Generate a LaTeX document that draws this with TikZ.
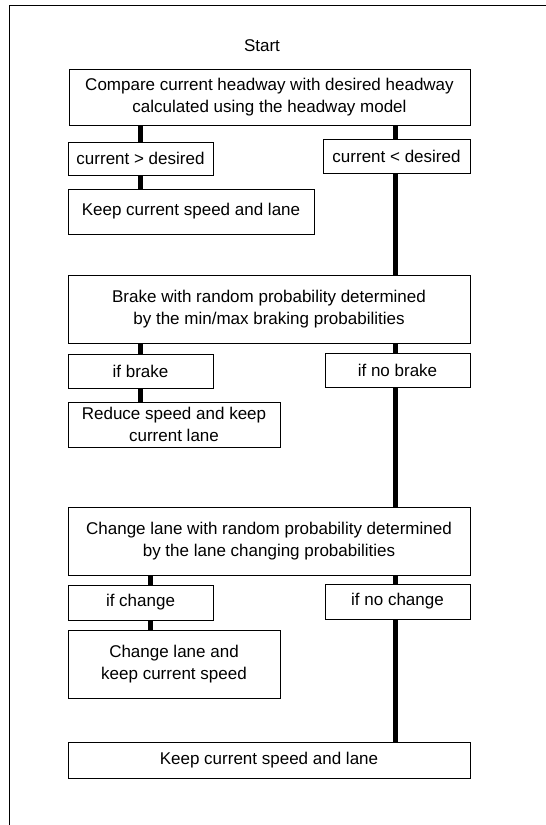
\documentclass[tikz,border=0pt]{standalone}
\usepackage{fontspec}
\setmainfont{Liberation Sans}
\begin{document}
\begin{tikzpicture}[x=1pt,y=-1pt,
  box/.style={draw, line width=0.9pt, inner sep=0pt, align=center,
    font=\fontsize{17}{21.5}\selectfont},
  conn/.style={line width=5pt}]
\useasboundingbox (0,0) rectangle (546,825);
\clip (0,0) rectangle (546,825);
\draw[line width=1pt] (9,5) rectangle (600,900);
\coordinate (R) at (395,0);
\coordinate (L) at (140,0);
\coordinate (L2) at (150,0);
\node[font=\fontsize{17}{20}\selectfont] (start) at (262,46) {Start};
\node[box, minimum width=401, minimum height=56] (box1) at (269.5,97)
  {Compare current headway with desired headway\\calculated using the headway model};
\node[box, minimum width=145, minimum height=33] (gt) at (140.5,158.5) {current > desired};
\node[box, minimum width=147, minimum height=34] (lt) at (396.5,156) {current < desired};
\node[box, minimum width=246, minimum height=45] (keep1) at (191,211.5) {Keep current speed and lane};
\node[box, minimum width=402, minimum height=68] (brake) at (269,309)
  {Brake with random probability determined\\by the min/max braking probabilities};
\node[box, minimum width=145, minimum height=34] (ifbrake) at (140.5,371) {if brake};
\node[box, minimum width=145, minimum height=34] (ifnobrake) at (397.5,370) {if no brake};
\node[box, minimum width=212, minimum height=45] (reduce) at (174,424.5)
  {Reduce speed and keep\\current lane};
\node[box, minimum width=402, minimum height=68] (change) at (269,541)
  {Change lane with random probability determined\\by the lane changing probabilities};
\node[box, minimum width=145, minimum height=35] (ifchange) at (140.5,602.5) {if change};
\node[box, minimum width=145, minimum height=35] (ifnochange) at (397.5,601.5) {if no change};
\node[box, minimum width=212, minimum height=68] (changelane) at (174,664)
  {Change lane and\\keep current speed};
\node[box, minimum width=402, minimum height=36] (final) at (269,760) {Keep current speed and lane};
% connectors
\draw[conn] (box1.south -| L) -- (gt.north -| L);
\draw[conn] (box1.south -| R) -- (lt.north -| R);
\draw[conn] (gt.south -| L) -- (keep1.north -| L);
\draw[conn] (lt.south -| R) -- (brake.north -| R);
\draw[conn] (brake.south -| L) -- (ifbrake.north -| L);
\draw[conn] (brake.south -| R) -- (ifnobrake.north -| R);
\draw[conn] (ifbrake.south -| L) -- (reduce.north -| L);
\draw[conn] (ifnobrake.south -| R) -- (change.north -| R);
\draw[conn] (change.south -| L2) -- (ifchange.north -| L2);
\draw[conn] (change.south -| R) -- (ifnochange.north -| R);
\draw[conn] (ifchange.south -| L2) -- (changelane.north -| L2);
\draw[conn] (ifnochange.south -| R) -- (final.north -| R);
\end{tikzpicture}
\end{document}
